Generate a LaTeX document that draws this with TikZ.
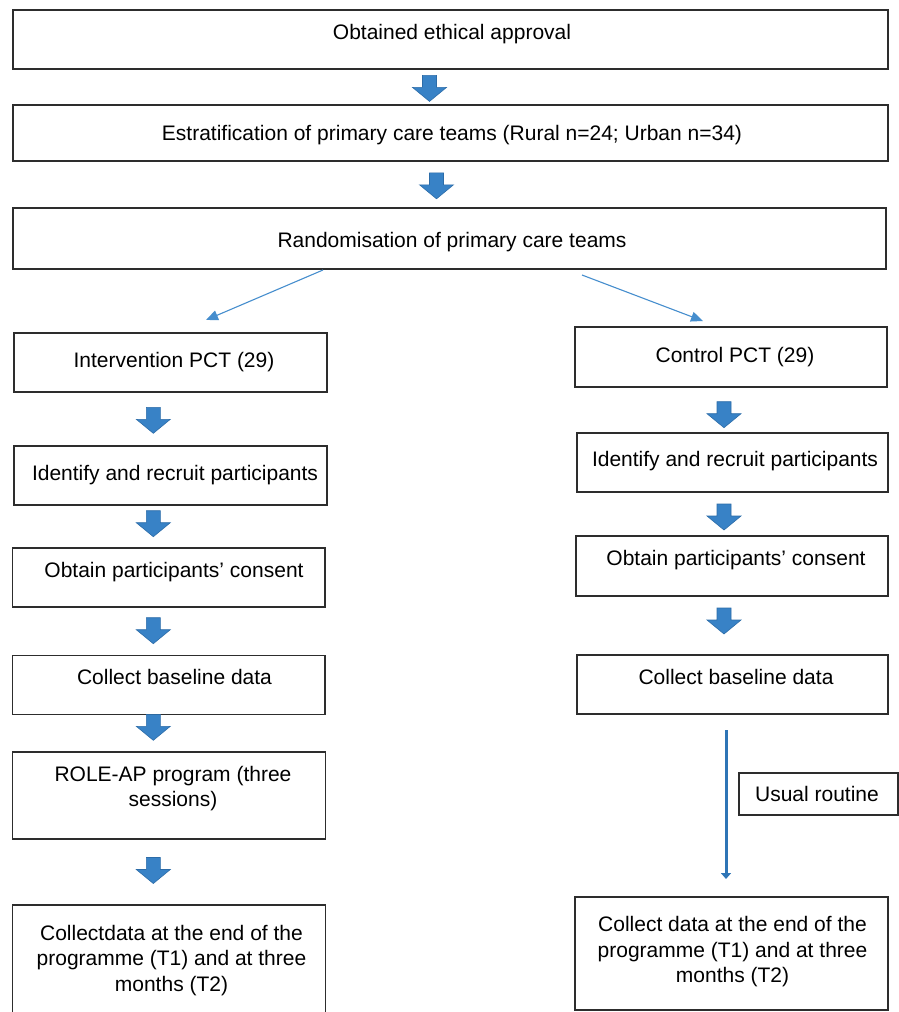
\documentclass[tikz,border=0pt]{standalone}
\usepackage{fontspec}
\setmainfont{Liberation Sans}
\usetikzlibrary{arrows.meta}
\definecolor{arrowfill}{RGB}{56,130,198}
\definecolor{arrowedge}{RGB}{44,108,168}
\definecolor{thinblue}{RGB}{70,142,206}
\definecolor{routineblue}{RGB}{46,117,182}
\definecolor{boxline}{RGB}{45,45,45}
\begin{document}
\begin{tikzpicture}[x=1pt,y=-1pt,
  font=\fontsize{21}{25.5}\selectfont,
  box/.style={draw=boxline,line width=1.3pt,inner sep=0pt,outer sep=0pt,anchor=north west},
  boxwh/.style 2 args={minimum width=#1,minimum height=#2},
  txt/.style={inner sep=0pt,anchor=base,align=center},
  blockarrow/.pic={\filldraw[fill=arrowfill,draw=arrowedge,line width=0.6pt,line join=miter]
    (-7,-13) -- (7,-13) -- (7,-1) -- (17,-1) -- (0,13) -- (-17,-1) -- (-7,-1) -- cycle;},
  thinarrow/.style={draw=thinblue,line width=1.1pt,-{Triangle[length=12pt,width=10pt]}},
  routine/.style={draw=routineblue,line width=3pt,-{Triangle[length=6pt,width=10pt]}},
]
\clip (0,0) rectangle (899,1012);
\fill[white] (0,0) rectangle (899,1012);

% top boxes
\node[box,boxwh={875pt}{59pt}] (approval) at (13,10) {};
\node[txt] (approvalT) at (452,39.5) {Obtained ethical approval};
\node[box,boxwh={875pt}{56pt}] (strat) at (13,105) {};
\node[txt] (stratT) at (452,140) {Estratification of primary care teams (Rural n=24; Urban n=34)};
\node[box,boxwh={873pt}{61pt}] (random) at (13,208) {};
\node[txt] (randomT) at (452,247) {Randomisation of primary care teams};

\pic (a1) at (429.5,88.4) {blockarrow};
\pic (a2) at (436.5,185.8) {blockarrow};

% split arrows
\coordinate (splitL) at (323,270);
\coordinate (toInter) at (206,320);
\coordinate (splitR) at (582,275);
\coordinate (toCtrl) at (703,321);
\draw[thinarrow] (splitL) -- (toInter);
\draw[thinarrow] (splitR) -- (toCtrl);

% left column
\node[box,boxwh={313pt}{59pt}] (inter) at (14,333) {};
\node[txt] (interT) at (174,367) {Intervention PCT (29)};
\node[box,boxwh={313pt}{59pt}] (id1) at (14,446) {};
\node[txt] (id1T) at (175,480) {Identify and recruit participants};
\node[box,boxwh={312.5pt}{59pt}] (cons1) at (12.5,548) {};
\node[txt] (cons1T) at (174,577) {Obtain participants’ consent};
\node[box,boxwh={312.5pt}{59pt}] (base1) at (12.5,655.5) {};
\node[txt] (base1T) at (174.5,684) {Collect baseline data};
\node[box,boxwh={313pt}{87pt}] (role) at (12.5,752) {};
\node[txt] (roleT) at (173,806.5) {ROLE-AP program (three\\sessions)};
\node[box,boxwh={313pt}{130pt}] (col1) at (12.5,905) {};
\node[txt] (col1T) at (171.5,991) {Collectdata at the end of the\\programme (T1) and at three\\months (T2)};

\pic (aL1) at (153.3,420.3) {blockarrow};
\pic (aL2) at (153.3,523.7) {blockarrow};
\pic (aL3) at (153.3,630.7) {blockarrow};
\pic (aL4) at (153.3,727.3) {blockarrow};
\pic (aL5) at (153.3,870.5) {blockarrow};

% right column
\node[box,boxwh={312pt}{60pt}] (ctrl) at (575,327) {};
\node[txt] (ctrlT) at (735,362) {Control PCT (29)};
\node[box,boxwh={311pt}{59pt}] (id2) at (577,433) {};
\node[txt] (id2T) at (735,466.5) {Identify and recruit participants};
\node[box,boxwh={312pt}{60pt}] (cons2) at (576,536) {};
\node[txt] (cons2T) at (736,565) {Obtain participants’ consent};
\node[box,boxwh={311pt}{59pt}] (base2) at (577,655) {};
\node[txt] (base2T) at (736,684) {Collect baseline data};
\node[box,boxwh={313pt}{113pt}] (col2) at (575,897) {};
\node[txt] (col2T) at (732.5,982.5) {Collect data at the end of the\\programme (T1) and at three\\months (T2)};

\pic (aR1) at (724,414.7) {blockarrow};
\pic (aR2) at (724,517) {blockarrow};
\pic (aR3) at (724,621) {blockarrow};

% usual routine
\coordinate (routineStart) at (726,730);
\coordinate (routineEnd) at (726,879);
\draw[routine] (routineStart) -- (routineEnd);
\node[box,boxwh={159pt}{42pt}] (usual) at (739,773) {};
\node[txt] (usualT) at (817,801.5) {Usual routine};
\end{tikzpicture}
\end{document}
